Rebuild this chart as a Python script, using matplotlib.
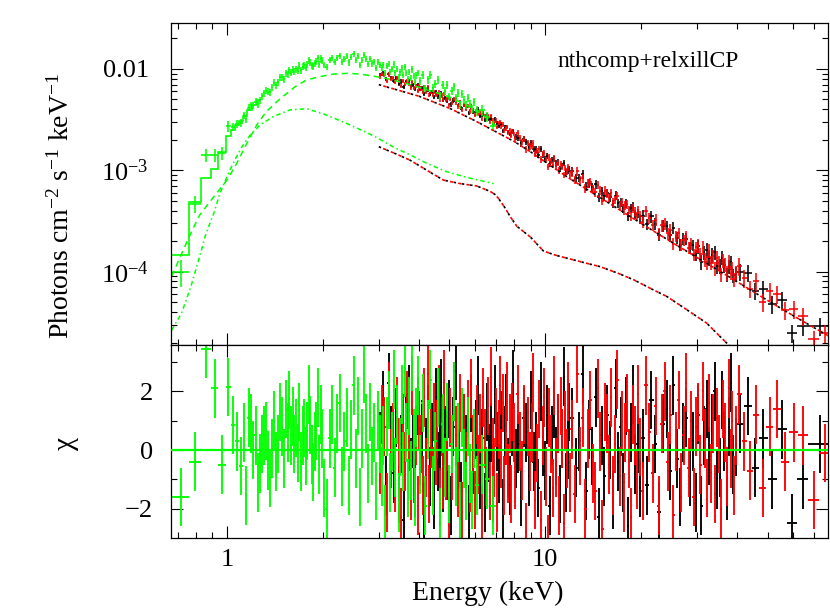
import numpy as np
import matplotlib
matplotlib.use("Agg")
import matplotlib.pyplot as plt
from matplotlib.ticker import FixedLocator, NullFormatter, FuncFormatter, LogLocator

plt.rcParams['font.family'] = ['Liberation Serif', 'DejaVu Serif']
plt.rcParams['mathtext.fontset'] = 'custom'
plt.rcParams['mathtext.rm'] = 'Liberation Serif'
plt.rcParams['mathtext.it'] = 'Liberation Serif:italic'
plt.rcParams['mathtext.bf'] = 'Liberation Serif:bold'

FLUX_UNIT = 1e-3   # data fluxes below are in units of 1e-3 photons/cm2/s/keV

# ================= XRT spectrum (green) =================
green_edges = [0.67, 0.76, 0.83, 0.89, 0.94, 0.99, 1.03, 1.06, 1.09, 1.12,
               1.14, 1.16, 1.18, 1.20, 1.22, 1.24, 1.26, 1.28, 1.30, 1.32,
               1.34, 1.36, 1.38, 1.40, 1.42, 1.44, 1.46, 1.48, 1.50, 1.52,
               1.54, 1.56, 1.58, 1.60, 1.62, 1.64, 1.66, 1.68, 1.70, 1.72,
               1.74, 1.76, 1.78, 1.80, 1.82, 1.84, 1.86, 1.88, 1.90, 1.92,
               1.94, 1.96, 1.98, 2.00, 2.04, 2.08, 2.12, 2.16, 2.20, 2.24,
               2.28, 2.32, 2.36, 2.40, 2.44, 2.48, 2.52, 2.56, 2.60, 2.64,
               2.68, 2.72, 2.76, 2.80, 2.84, 2.88, 2.92, 2.96, 3.00, 3.04,
               3.08, 3.12, 3.16, 3.20, 3.24, 3.28, 3.32, 3.36, 3.40, 3.44,
               3.48, 3.52, 3.56, 3.60, 3.64, 3.68, 3.72, 3.76, 3.80, 3.84,
               3.88, 3.92, 3.96, 4.00, 4.08, 4.16, 4.24, 4.32, 4.40, 4.48,
               4.56, 4.64, 4.72, 4.80, 4.88, 4.96, 5.04, 5.12, 5.20, 5.28,
               5.36, 5.44, 5.52, 5.60, 5.68, 5.76, 5.84, 5.92, 6.00, 6.20,
               6.45, 6.70, 7.00]
green_flux = [0.100, 0.47, 1.42, 1.42, 1.48, 2.74, 2.67, 2.87, 2.96,
              3.49, 3.21, 4.15, 4.36, 4.35, 4.76, 4.48, 4.94, 5.42, 5.80,
              6.12, 5.95, 5.93, 6.62, 7.33, 6.90, 7.45, 8.29, 8.29, 7.93,
              9.11, 8.86, 9.74, 9.21, 9.83, 9.43, 10.0, 9.63, 10.75, 9.72,
              10.5, 10.84, 10.3, 11.08, 12.18, 11.55, 10.88, 10.52, 11.44, 11.81,
              12.84, 11.1, 12.57, 12.03,
              10.88, 10.47, 12.29, 12.97, 11.76, 12.96, 13.54, 11.73, 12.67, 13.33,
              11.6, 13.03, 14.09, 12.18, 13.41, 11.03, 12.39, 13.87, 12.54, 11.23,
              12.56, 11.36, 11.76, 10.26, 11.71, 11.03, 10.17, 10.92, 9.07, 10.79,
              11.19, 9.34, 10.03, 11.1, 9.21, 10.08, 8.30, 9.26, 10.14, 8.78,
              10.4, 9.12, 8.02, 9.37, 8.14, 9.91, 8.50, 7.41, 8.63, 9.06,
              7.58, 8.74, 6.44, 7.87, 8.70, 6.46, 7.17, 7.84, 5.47, 7.02,
              6.09, 6.90, 5.37, 6.05, 6.73, 5.24, 5.76, 4.45, 5.66, 4.98,
              4.44, 5.21, 4.49, 4.06, 4.75,
              3.87, 3.90, 3.38, 2.75]
green_chi = [-1.6, -0.4, 3.45, 2.1, -0.5, 2.15, 0.85, 0.3, -0.55,
             0.6, -1.55, 1.1, 0.9, 0.0, 0.5, -1.1, -0.45, 0.2, 0.5,
             0.65, -0.35, -0.95, 0.05, 1.0, -0.4, 0.2, 1.3, 0.8, -0.3,
             1.4, 0.6, 1.7, 0.5, 1.15, 0.2, 0.75, -0.1, 1.3, -0.4,
             0.5, 0.75, -0.2, 0.65, 1.9, 0.85, -0.15, -0.75, 0.3, 0.65,
             1.8, -0.5, 1.2, 0.4,
             -1.3, -2.0, 0.4, 1.2, -0.6, 0.9, 1.6, -0.9, 0.3, 1.1,
             -1.2, 0.7, 2.2, -0.3, 1.5, -1.6, 0.4, 2.6, 0.9, -0.8,
             1.3, -0.2, 0.6, -1.4, 1.0, 0.2, -0.9, 0.5, -2.2, 0.8,
             1.7, -1.1, 0.3, 2.4, -0.6, 1.2, -1.8, 0.1, 1.9, -0.4,
             2.8, 0.6, -1.3, 1.5, -0.7, 3.0, 0.4, -1.6, 1.1, 2.2,
             -0.5, 1.6, -1.9, 0.7, 2.4, -1.2, 0.3, 1.8, -2.3, 0.9,
             -0.6, 1.3, -1.5, 0.2, 2.0, -0.9, 0.6, -2.1, 1.1, -0.3,
             -1.4, 0.8, -0.8, -1.7, 0.4,
             -1.2, -0.5, -1.0, -1.9]
green_err_band_E = [0.67, 0.76, 0.83, 0.99, 1.03, 1.12, 2.0, 4.0, 6.0, 7.0]
green_err_band_pct = [30, 20, 15, 12, 9, 8, 7, 9, 12]
green_model_edges = [0.67, 0.76, 0.83, 0.89, 0.94, 0.99, 1.03, 1.06, 1.09, 1.12, 1.16, 1.20, 1.24, 1.28]
green_model = [0.146, 0.485, 0.84, 1.02, 1.52, 2.2, 2.5, 2.8, 3.1, 3.45, 3.95, 4.45, 4.95]

# ================= NuSTAR FPMA (black) =================
black_edges = [3.00, 3.06, 3.13, 3.19, 3.25, 3.31, 3.38, 3.44, 3.50, 3.56,
               3.63, 3.69, 3.75, 3.81, 3.88, 3.94, 4.00, 4.06, 4.13, 4.19,
               4.25, 4.31, 4.38, 4.44, 4.50, 4.56, 4.63, 4.69, 4.75, 4.81,
               4.88, 4.94, 5.00,
               5.1, 5.2, 5.3, 5.4, 5.5, 5.6, 5.7, 5.8, 5.9, 6.0,
               6.1, 6.2, 6.3, 6.4, 6.5, 6.6, 6.7, 6.8, 6.9, 7.0,
               7.1, 7.2, 7.3, 7.4, 7.5, 7.6, 7.7, 7.8, 7.9, 8.0,
               8.16, 8.32, 8.48, 8.64, 8.80, 8.96, 9.12, 9.28, 9.44, 9.60,
               9.76, 9.92, 10.08, 10.24, 10.40, 10.56, 10.72, 10.88, 11.04, 11.20,
               11.36, 11.52, 11.68, 11.84, 12.00,
               12.32, 12.64, 12.96, 13.28, 13.60, 13.92, 14.24, 14.56, 14.88, 15.20,
               15.52, 15.84, 16.16, 16.48, 16.80, 17.12, 17.44, 17.76, 18.08, 18.40,
               18.72, 19.04, 19.36, 19.68, 20.00,
               20.6, 21.25, 21.9, 22.5, 23.1, 23.75, 24.4, 25.0, 25.6, 26.25,
               26.9, 27.5, 28.1, 28.75, 29.4, 30.0,
               30.625, 31.25, 31.875, 32.5, 33.125, 33.75, 34.375, 35.0,
               35.625, 36.25, 36.875, 37.5, 38.125, 38.75, 39.375, 40.0,
               42.0, 44.5, 47.0, 50.0, 53.5, 57.5, 62.0, 67.0, 79.0]
black_flux = [8.73, 9.05, 7.92, 8.92, 8.19, 7.62, 8.06, 7.12, 7.50, 6.61,
              7.44, 7.60, 6.77, 6.92, 6.33, 6.95, 6.40, 6.51, 5.69, 6.12,
              6.29, 5.67, 5.91, 5.28, 5.96, 5.37, 5.42, 5.72, 4.97, 5.20,
              4.87, 5.21,
              4.47, 4.87, 5.10, 4.43, 4.12, 4.40, 4.18, 3.69, 4.20, 3.77,
              3.86, 3.98, 3.43, 3.54, 3.15, 3.48, 3.22, 3.23, 2.89, 3.22,
              2.94, 2.74, 2.86, 2.46, 2.64, 2.68, 2.39, 2.27, 2.38, 2.46,
              2.13, 2.10, 1.84, 2.04, 1.92, 1.71, 1.87, 1.62, 1.61, 1.43,
              1.62, 1.42, 1.30, 1.39, 1.15, 1.27, 1.29, 1.17, 1.20, 1.04,
              1.11, 1.19, 0.973, 1.00, 1.03,
              0.975, 0.839, 0.845, 0.913, 0.692, 0.750, 0.677, 0.726, 0.543, 0.623,
              0.553, 0.600, 0.540, 0.467, 0.563, 0.471, 0.488, 0.420, 0.474, 0.354,
              0.422, 0.439, 0.371, 0.374, 0.331,
              0.356, 0.296, 0.351, 0.298, 0.232, 0.285, 0.280, 0.228, 0.272, 0.216,
              0.184, 0.212, 0.211, 0.173, 0.182, 0.146,
              0.178, 0.125, 0.156, 0.164, 0.136, 0.146, 0.155, 0.113,
              0.114, 0.137, 0.116, 0.094, 0.113, 0.124, 0.092, 0.095,
              0.100, 0.098, 0.065, 0.068, 0.048, 0.053, 0.025, 0.029, 0.029]
black_chi = [0.3, 1.7, -1.2, 2.3, 0.5, -0.8, 1.1, -1.5, 0.2, -2.4,
             0.9, 1.9, -0.6, 0.4, -1.3, 1.5, -0.2, 0.7, -2.1, 0.1,
             1.2, -0.9, 0.6, -1.7, 1.8, -0.4, 0.3, 2.1, -1.1, 0.5,
             -0.7, 1.4,
             -1.9, 0.8, 2.7, -0.3, -1.4, 0.9, 0.2, -2.2, 1.6, -0.5,
             0.7, 2.2, -1.0, 0.4, -1.8, 1.3, -0.1, 0.6, -1.5, 1.9,
             0.3, -0.8, 1.0, -2.0, 0.5, 1.6, -0.6, -1.2, 0.8, 2.4,
             -0.3, 0.2, -1.6, 1.1, 0.6, -0.9, 1.7, -0.4, 0.3, -1.3,
             2.0, 0.1, -0.7, 1.2, -1.9, 0.5, 1.4, -0.2, 0.9, -1.5,
             0.4, 2.5, -1.1, 0.0, 1.3,
             1.1, -0.6, 0.3, 2.6, -1.4, 0.7, -0.2, 1.8, -2.3, 0.5,
             -0.9, 1.2, 0.0, -1.7, 2.1, -0.4, 0.8, -1.1, 1.5, -2.6,
             0.6, 1.9, -0.5, 0.2, -1.3,
             0.4, -1.2, 1.7, 0.2, -2.1, 0.9, 1.4, -0.7, 2.2, -0.3,
             -1.6, 0.6, 1.1, -0.9, 0.3, -1.8,
             1.2, -1.9, 0.5, 1.4, -0.2, 0.9, 2.0, -1.0,
             -0.6, 1.7, 0.3, -1.4, 0.8, 2.3, -0.5, 0.1,
             0.9, 1.5, -0.6, 0.4, -1.0, 0.7, -2.5, -1.0, 0.2]

# ================= NuSTAR FPMB (red) =================
red_edges = [3.00, 3.05, 3.10, 3.15, 3.20, 3.25, 3.30, 3.35, 3.40, 3.45,
             3.50, 3.55, 3.60, 3.65, 3.70, 3.75, 3.80, 3.85, 3.90, 3.95,
             4.00, 4.05, 4.10, 4.15, 4.20, 4.25, 4.30, 4.35, 4.40, 4.45,
             4.50, 4.55, 4.60, 4.65, 4.70, 4.75, 4.80, 4.85, 4.90, 4.95, 5.00,
             5.075, 5.15, 5.225, 5.30, 5.375, 5.45, 5.525, 5.60, 5.675, 5.75,
             5.825, 5.90, 5.975, 6.05, 6.125, 6.20, 6.275, 6.35, 6.425, 6.50,
             6.575, 6.65, 6.725, 6.80, 6.875, 6.95, 7.025, 7.10, 7.175, 7.25,
             7.325, 7.40, 7.475, 7.55, 7.625, 7.70, 7.775, 7.85, 7.925, 8.00,
             8.125, 8.25, 8.375, 8.50, 8.625, 8.75, 8.875, 9.00, 9.125, 9.25,
             9.375, 9.50, 9.625, 9.75, 9.875, 10.00, 10.125, 10.25, 10.375, 10.50,
             10.625, 10.75, 10.875, 11.00, 11.125, 11.25, 11.375, 11.50, 11.625, 11.75,
             11.875, 12.00,
             12.25, 12.5, 12.75, 13.0, 13.25, 13.5, 13.75, 14.0, 14.25, 14.5,
             14.75, 15.0, 15.25, 15.5, 15.75, 16.0, 16.25, 16.5, 16.75, 17.0,
             17.25, 17.5, 17.75, 18.0, 18.25, 18.5, 18.75, 19.0, 19.25, 19.5,
             19.75, 20.0,
             20.5, 21.0, 21.5, 22.0, 22.5, 23.0, 23.5, 24.0, 24.5, 25.0,
             25.5, 26.0, 26.5, 27.0, 27.5, 28.0, 28.5, 29.0, 29.5, 30.0,
             30.5, 31.0, 31.5, 32.0, 32.5, 33.0, 33.5, 34.0, 34.5, 35.0,
             35.5, 36.0, 36.5, 37.0, 37.5, 38.0, 38.5, 39.0, 39.5, 40.0,
             41.5, 43.0, 45.0, 47.0, 49.5, 52.0, 55.0, 58.5, 62.5, 67.0,
             72.5, 79.0]
red_flux = [8.47, 8.93, 8.67, 7.68, 8.81, 7.94, 8.11, 7.46, 8.14, 7.59,
            6.76, 7.61, 7.13, 7.64, 7.13, 6.56, 7.45, 6.53, 6.78, 6.05,
            6.72, 6.42, 5.98, 6.64, 5.95, 6.64, 5.56, 5.92, 5.53, 5.94,
            5.53, 5.65, 5.84, 5.02, 5.46, 5.01, 5.64, 4.94, 5.07, 4.43,
            5.07, 4.64, 5.05, 4.68, 4.27, 4.69, 3.96, 4.39, 4.09, 4.31,
            3.82, 4.26, 3.89, 3.53, 3.90, 3.58, 3.71, 3.20, 3.69, 3.43,
            3.20, 3.46, 3.02, 3.45, 3.09, 2.95, 3.09, 2.69, 2.92, 3.02,
            2.69, 2.83, 2.48, 2.59, 2.69, 2.36, 2.48, 2.20, 2.41, 2.29,
            2.06, 2.31, 2.08, 1.92, 2.05, 1.61, 1.88, 1.72, 1.74, 1.84,
            1.46, 1.54, 1.61, 1.28, 1.46, 1.49, 1.27, 1.09, 1.34, 1.25,
            1.13, 1.31, 1.12, 1.18, 1.00, 1.16, 1.08, 0.90, 1.06, 0.975,
            1.07, 0.90,
            0.959, 0.805, 0.983, 0.805, 0.837, 0.664, 0.742, 0.771, 0.647, 0.605,
            0.721, 0.631, 0.503, 0.631, 0.596, 0.534, 0.593, 0.483, 0.511, 0.561,
            0.449, 0.490, 0.401, 0.453, 0.466, 0.408, 0.349, 0.423, 0.397, 0.353,
            0.408, 0.360,
            0.311, 0.394, 0.337, 0.288, 0.325, 0.236, 0.286, 0.297, 0.238, 0.260,
            0.188, 0.224, 0.240, 0.185, 0.204, 0.224, 0.173, 0.190, 0.148, 0.174,
            0.181, 0.148, 0.172, 0.133, 0.124, 0.161, 0.123, 0.142, 0.108, 0.137,
            0.122, 0.094, 0.129, 0.117, 0.097, 0.126, 0.098, 0.108, 0.084, 0.098,
            0.114, 0.087, 0.068, 0.081, 0.050, 0.064, 0.0605, 0.042, 0.0425, 0.0365,
            0.0216, 0.0246]
red_chi = [-0.5, 1.2, 0.8, -1.8, 2.0, -0.3, 0.6, -1.1, 1.5, 0.1,
           -2.3, 0.9, -0.4, 1.7, 0.3, -1.4, 2.2, -0.8, 0.5, -1.9,
           1.0, 0.2, -1.2, 1.8, -0.6, 2.6, -1.5, 0.4, -0.9, 1.3,
           -0.2, 0.7, 1.9, -1.6, 0.8, -1.0, 2.4, -0.7, 0.3, -2.6,
           1.1, -0.7, 2.0, 0.5, -1.3, 1.6, -2.1, 0.9, -0.4, 1.4,
           -1.1, 2.1, 0.2, -1.7, 1.2, -0.5, 0.9, -2.2, 1.8, 0.4,
           -0.9, 1.5, -1.4, 2.5, 0.1, -0.6, 1.1, -1.8, 0.7, 2.2,
           -0.3, 1.6, -1.2, 0.5, 2.0, -0.8, 0.9, -1.5, 1.3, 0.6,
           -1.0, 1.9, 0.3, -0.7, 1.2, -2.8, 0.8, -0.4, 0.6, 2.3,
           -1.7, -0.1, 1.4, -2.4, 0.5, 1.8, -0.9, -3.2, 1.1, 0.2,
           -1.3, 2.2, -0.6, 0.9, -1.9, 1.5, 0.4, -2.5, 1.0, -0.3,
           2.0, -1.1,
           0.7, -1.5, 2.6, -0.2, 1.1, -2.0, 0.4, 1.7, -0.8, -1.4,
           2.1, 0.3, -2.7, 1.3, 0.9, -0.5, 1.8, -1.2, 0.2, 2.4,
           -0.9, 1.0, -1.8, 0.6, 1.6, -0.3, -2.3, 1.2, 0.5, -1.0,
           1.9, 0.1,
           -1.4, 2.2, 0.6, -0.8, 1.5, -1.9, 0.9, 2.0, -0.4, 1.2,
           -2.2, 0.3, 1.7, -1.1, 0.5, 2.3, -0.6, 1.0, -1.6, 0.8,
           1.3, -0.5, 2.0, 0.4, -1.3, 1.6, -0.8, 0.9, -1.5, 1.1,
           0.2, -2.0, 1.4, 0.6, -0.9, 2.1, -0.3, 1.0, -1.2, 0.5,
           1.9, 0.3, -0.7, 1.2, -1.3, 0.8, 1.4, -0.4, 0.6, 0.5,
           -1.7, -0.1]

nustar_err_band_E = [3.0, 8.0, 12.0, 20.0, 30.0, 40.0, 79.0]
nustar_err_band_pct = [5, 7, 10, 13, 16, 20]

# ================= model components (photons cm^-2 s^-1 keV^-1) =================
green_nth_E = [0.67, 0.72, 0.77, 0.82, 0.87, 0.93, 1.0, 1.07, 1.15, 1.24, 1.33, 1.47, 1.64, 1.78,
               1.96, 2.16, 2.4, 2.62, 2.88, 3.2, 3.6, 4.0, 4.5, 5.0, 5.5, 6.0, 6.5, 7.0]
green_nth_F = [9.0e-5, 1.5e-4, 2.4e-4, 3.6e-4, 4.6e-4, 6.0e-4, 8.0e-4, 1.15e-3, 1.8e-3, 2.8e-3,
               3.8e-3, 5.1e-3, 6.7e-3, 7.8e-3, 8.4e-3, 8.9e-3, 9.06e-3, 8.9e-3, 8.5e-3, 8.0e-3,
               7.3e-3, 6.6e-3, 5.9e-3, 5.3e-3, 4.6e-3, 4.0e-3, 3.35e-3, 2.75e-3]
green_rel_E = [0.67, 0.72, 0.77, 0.82, 0.86, 0.91, 0.95, 1.02, 1.07, 1.12, 1.18, 1.27, 1.40,
               1.58, 1.78, 2.01, 2.32, 2.68, 2.96, 3.33, 3.76, 4.25, 4.90, 5.68, 6.40, 6.88]
green_rel_F = [2.65e-5, 3.9e-5, 7.1e-5, 1.4e-4, 2.4e-4, 3.8e-4, 5.9e-4, 1.0e-3, 1.35e-3, 1.75e-3,
               2.2e-3, 2.8e-3, 3.4e-3, 3.95e-3, 4.05e-3, 3.6e-3, 3.0e-3, 2.45e-3, 2.1e-3, 1.7e-3,
               1.42e-3, 1.17e-3, 9.7e-4, 8.5e-4, 7.8e-4, 7.4e-4]
nustar_nth_E = [3.0, 4.0, 5.0, 6.0, 7.0, 8.0, 9.0, 10.0, 12.0, 15.0, 20.0, 25.0, 30.0, 40.0,
                50.0, 60.0, 70.0, 79.0]
nustar_nth_F = [7.0e-3, 5.4e-3, 4.1e-3, 3.1e-3, 2.4e-3, 1.92e-3, 1.52e-3, 1.21e-3, 8.2e-4, 5.3e-4,
                3.0e-4, 1.95e-4, 1.38e-4, 8.0e-5, 5.2e-5, 3.7e-5, 2.8e-5, 2.25e-5]
nustar_rel_E = [3.0, 3.4, 3.76, 4.25, 4.79, 5.4, 6.1, 6.71, 7.0, 7.22, 7.5, 7.76, 8.15, 8.98,
                9.87, 10.8, 11.7, 13.5, 14.9, 17.0, 19.0, 21.9, 24.1, 27.9, 32.2, 35.5, 38.0, 40.0]
nustar_rel_F = [1.71e-3, 1.45e-3, 1.26e-3, 1.0e-3, 8.0e-4, 7.4e-4, 7.0e-4, 6.2e-4, 5.7e-4, 5.0e-4,
                4.2e-4, 3.5e-4, 2.8e-4, 2.2e-4, 1.6e-4, 1.45e-4, 1.36e-4, 1.21e-4, 1.12e-4, 9.6e-5,
                8.3e-5, 6.6e-5, 5.7e-5, 4.2e-5, 3.1e-5, 2.28e-5, 1.85e-5, 1.6e-5]

GREEN = '#00ff00'
RED = '#ff0000'
BLACK = '#000000'


def band_lookup(x, band_edges, band_vals):
    idx = np.searchsorted(np.asarray(band_edges), x, side='right') - 1
    idx = np.clip(idx, 0, len(band_vals) - 1)
    return np.asarray(band_vals, dtype=float)[idx]


spectra = [
    (black_edges, black_flux, black_chi, nustar_err_band_E, nustar_err_band_pct, BLACK),
    (red_edges, red_flux, red_chi, nustar_err_band_E, nustar_err_band_pct, RED),
    (green_edges, green_flux, green_chi, green_err_band_E, green_err_band_pct, GREEN),
]
for ed, fl, ch, _, _, _ in spectra:
    assert len(ed) - 1 == len(fl) == len(ch), (len(ed), len(fl), len(ch))
assert len(green_model_edges) - 1 == len(green_model)

W, H = 830, 608
fig = plt.figure(figsize=(W / 100, H / 100), dpi=100)
L, R = 171, 828
T1, B1, B2 = 23, 345, 538
ax1 = fig.add_axes([L / W, 1 - B1 / H, (R - L) / W, (B1 - T1) / H])
ax2 = fig.add_axes([L / W, 1 - B2 / H, (R - L) / W, (B2 - B1) / H])

# ---------------- top panel ----------------
for ed, fl, ch, bE, bP, col in spectra:
    e = np.asarray(ed)
    lo, hi = e[:-1], e[1:]
    c = 0.5 * (lo + hi)
    f = np.asarray(fl) * FLUX_UNIT
    err = f * band_lookup(c, bE, bP) / 100.0
    ax1.errorbar(c, f, xerr=[c - lo, hi - c], yerr=err, fmt='none',
                 ecolor=col, elinewidth=1.15, capsize=0)

ax1.stairs(np.asarray(green_model) * FLUX_UNIT, green_model_edges, baseline=None,
           color=GREEN, lw=1.2)

ax1.plot(green_nth_E, green_nth_F, color=GREEN, lw=1.1, ls=(0, (4, 3)))
ax1.plot(green_rel_E, green_rel_F, color=GREEN, lw=1.1, ls=(0, (3, 2, 1, 2)))
for E, F in ((nustar_nth_E, nustar_nth_F), (nustar_rel_E, nustar_rel_F)):
    ax1.plot(E, F, color=BLACK, lw=1.2, ls=(0, (1.5, 3.5)))
    ax1.plot(E, F, color=RED, lw=1.2, ls=(2.2, (2, 3)))

ax1.set_yscale('log')
ax1.set_ylim(1.89e-5, 0.0284)


def yfmt(v, pos):
    if abs(v - 0.01) < 1e-9:
        return '0.01'
    return r'$\mathregular{10^{%d}}$' % int(round(np.log10(v)))


ax1.yaxis.set_major_locator(LogLocator(base=10, numticks=10))
ax1.yaxis.set_minor_locator(LogLocator(base=10, subs=np.arange(2, 10), numticks=20))
ax1.yaxis.set_major_formatter(FuncFormatter(yfmt))
ax1.yaxis.set_minor_formatter(NullFormatter())

for ax in (ax1, ax2):
    ax.set_xscale('log')
    ax.set_xlim(0.667, 77.4)
    ax.xaxis.set_major_locator(FixedLocator([1, 10]))
    ax.xaxis.set_minor_locator(LogLocator(base=10, subs=np.arange(2, 10), numticks=20))
    ax.xaxis.set_minor_formatter(NullFormatter())
    ax.tick_params(which='both', direction='in', top=True, right=True,
                   width=0.8, labelsize=19)
    ax.tick_params(which='major', length=8.5)
    ax.tick_params(which='minor', length=4.3)
    for s in ax.spines.values():
        s.set_linewidth(0.9)

ax1.xaxis.set_major_formatter(NullFormatter())
ax1.tick_params(axis='y', pad=16)

fig.text(557 / W, 1 - 62 / H, 'nthcomp+relxillCP', ha='left', va='center', fontsize=17)

# ---------------- residual panel ----------------
for ed, fl, ch, bE, bP, col in spectra:
    e = np.asarray(ed)
    lo, hi = e[:-1], e[1:]
    c = 0.5 * (lo + hi)
    ax2.errorbar(c, ch, xerr=[c - lo, hi - c], yerr=1.0, fmt='none',
                 ecolor=col, elinewidth=1.35, capsize=0)
ax2.axhline(0, color=GREEN, lw=1.6, zorder=10)
ax2.set_ylim(-3.0, 3.58)
ax2.yaxis.set_major_locator(FixedLocator([-2, 0, 2]))
ax2.yaxis.set_minor_locator(FixedLocator([-1, 1, 3]))
ax2.xaxis.set_major_formatter(FuncFormatter(lambda v, p: '%g' % v))
ax2.tick_params(axis='y', pad=13)
ax2.tick_params(axis='x', pad=8)

# ---------------- labels ----------------
fig.text(61 / W, 1 - 206 / H, r'Photons cm$^{-2}$ s$^{-1}$ keV$^{-1}$',
         rotation=90, ha='center', va='center', fontsize=20)
fig.text(66 / W, 1 - 443 / H, 'χ', rotation=90, ha='center', va='center', fontsize=21)
fig.text(488 / W, 1 - 593 / H, 'Energy (keV)', ha='center', va='center', fontsize=20)

fig.savefig('out.png', dpi=100)
